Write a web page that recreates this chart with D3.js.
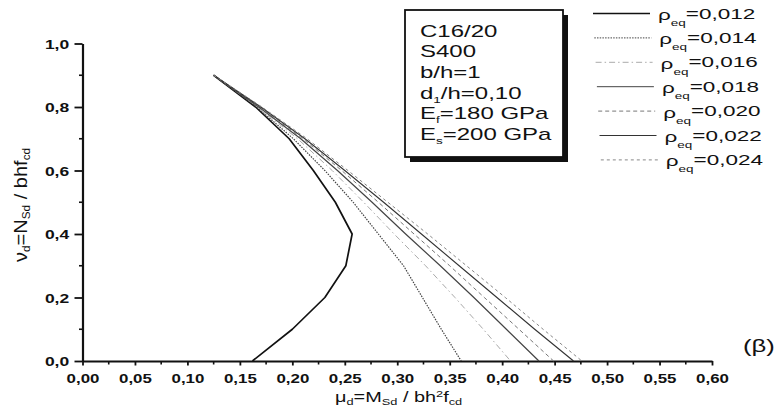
<!DOCTYPE html>
<html>
<head>
<meta charset="utf-8">
<script src="https://cdn.jsdelivr.net/npm/d3@7"></script>
<style>
  html, body { margin: 0; padding: 0; background: #fff; }
  svg { display: block; font-family: "Liberation Sans", Arial, sans-serif; }
</style>
</head>
<body>
<svg id="chart" width="782" height="412"></svg>
<script>
// ---- data ----
const nuLevels = [0.9, 0.8, 0.7, 0.6, 0.5, 0.4, 0.3, 0.2, 0.1, 0.0];
const rhoLabels = ["0,012", "0,014", "0,016", "0,018", "0,020", "0,022", "0,024"];
const mu012 = [0.125, 0.165, 0.197, 0.220, 0.241, 0.257, 0.251, 0.231, 0.200, 0.162];
const mu014 = [0.125, 0.166, 0.201, 0.231, 0.258, 0.282, 0.306, 0.324, 0.342, 0.361];
const mu016 = [0.125, 0.167, 0.205, 0.238, 0.268, 0.297, 0.327, 0.355, 0.382, 0.408];
const mu018 = [0.125, 0.168, 0.208, 0.243, 0.276, 0.308, 0.341, 0.373, 0.404, 0.435];
const mu020 = [0.125, 0.169, 0.210, 0.247, 0.282, 0.316, 0.350, 0.383, 0.416, 0.449];
const mu022 = [0.125, 0.170, 0.212, 0.250, 0.287, 0.323, 0.359, 0.395, 0.431, 0.468];
const mu024 = [0.125, 0.171, 0.214, 0.253, 0.291, 0.329, 0.366, 0.403, 0.439, 0.476];
const seriesMu = [mu012, mu014, mu016, mu018, mu020, mu022, mu024];
const xTickValues = [0, 0.05, 0.10, 0.15, 0.20, 0.25, 0.30, 0.35, 0.40, 0.45, 0.50, 0.55, 0.60];
const yTickValues = [0, 0.2, 0.4, 0.6, 0.8, 1.0];
const boxLines = [
  ["C16/20"], ["S400"], ["b/h=1"],
  ["d", "1", "/h=0,10"], ["E", "f", "=180 GPa"], ["E", "s", "=200 GPa"]
];

// ---- styles ----
const styles = [
  { stroke: "#111", width: 1.7, dash: null },
  { stroke: "#444", width: 1.2, dash: "1.5,1.2" },
  { stroke: "#aaa", width: 1.0, dash: "6,3,1.5,3" },
  { stroke: "#444", width: 1.2, dash: null },
  { stroke: "#777", width: 1.0, dash: "4,3" },
  { stroke: "#333", width: 1.1, dash: null },
  { stroke: "#888", width: 1.0, dash: "3,3" }
];
const SX = 1.5; // horizontal stretch of the scanned lettering

const svg = d3.select("#chart");
const x = d3.scaleLinear().domain([0, 0.6]).range([82.5, 712]);
const y = d3.scaleLinear().domain([0, 1.0]).range([361, 43.5]);
const fmt2 = d => d3.format(".2f")(d).replace(".", ",");
const fmt1 = d => d3.format(".1f")(d).replace(".", ",");

// minor ticks
const xMinor = d3.range(0.025, 0.6, 0.05);
const yMinor = d3.range(0.1, 1.0, 0.2);
svg.append("g").attr("transform", `translate(0,${y(0)})`)
  .selectAll("line").data(xMinor).join("line")
  .attr("x1", d => x(d)).attr("x2", d => x(d)).attr("y1", 0).attr("y2", 3.5)
  .attr("stroke", "#111").attr("stroke-width", 1.6);
svg.append("g").attr("transform", `translate(${x(0)},0)`)
  .selectAll("line").data(yMinor).join("line")
  .attr("y1", d => y(d)).attr("y2", d => y(d)).attr("x1", 0).attr("x2", -3.5)
  .attr("stroke", "#111").attr("stroke-width", 1.6);

// axes
const xAxis = svg.append("g").attr("transform", `translate(0,${y(0)})`)
  .call(d3.axisBottom(x).tickValues(xTickValues).tickFormat(fmt2).tickSize(4.5).tickSizeOuter(0).tickPadding(8));
const yAxis = svg.append("g").attr("transform", `translate(${x(0)},0)`)
  .call(d3.axisLeft(y).tickValues(yTickValues).tickFormat(fmt1).tickSize(8).tickSizeOuter(0).tickPadding(0));
[xAxis, yAxis].forEach(g => {
  g.select(".domain").attr("stroke", "#111").attr("stroke-width", 2.2);
  g.selectAll(".tick line").attr("stroke", "#111").attr("stroke-width", 1.8);
  g.selectAll(".tick text").attr("fill", "#111").style("font-weight", "bold")
    .style("font-family", "'Liberation Sans', Arial, sans-serif");
});
xAxis.selectAll(".tick text").style("font-size", "13px").attr("transform", "scale(1.3,1)");
yAxis.selectAll(".tick text").style("font-size", "12.5px").attr("x", -9.5).attr("dy", "0.36em")
  .attr("transform", "scale(1.4,1)");

// curves
const line = d3.line().x(d => x(d[0])).y(d => y(d[1]));
seriesMu.forEach((mu, i) => {
  const pts = mu.map((m, k) => [m, nuLevels[k]]);
  svg.append("path").datum(pts)
    .attr("d", line).attr("fill", "none")
    .attr("stroke", styles[i].stroke).attr("stroke-width", styles[i].width)
    .attr("stroke-dasharray", styles[i].dash)
    .attr("stroke-linejoin", "round");
});

// info box
const box = svg.append("g");
box.append("rect").attr("x", 410).attr("y", 15).attr("width", 158).attr("height", 147).attr("fill", "#111");
box.append("rect").attr("x", 405).attr("y", 10).attr("width", 158).attr("height", 147)
  .attr("fill", "#fff").attr("stroke", "#111").attr("stroke-width", 1.8);
boxLines.forEach((parts, i) => {
  const t = box.append("text")
    .attr("transform", `translate(420,${36.5 + i * 20.7}) scale(${SX},1)`)
    .attr("fill", "#111").style("font-size", "16px");
  if (parts.length === 1) {
    t.text(parts[0]);
  } else {
    t.append("tspan").text(parts[0]);
    t.append("tspan").attr("dy", 4).style("font-size", "9px").text(parts[1]);
    t.append("tspan").attr("dy", -4).text(parts[2]);
  }
});

// legend
const leg = svg.append("g");
rhoLabels.forEach((lab, i) => {
  const yy = 13.5 + i * 24.4;
  const dx = i * 1.3;
  leg.append("line").attr("x1", 593 + dx).attr("x2", 650 + dx).attr("y1", yy).attr("y2", yy)
    .attr("stroke", styles[i].stroke).attr("stroke-width", Math.max(1, styles[i].width - 0.2))
    .attr("stroke-dasharray", styles[i].dash);
  const t = leg.append("text")
    .attr("transform", `translate(${658 + dx},${yy + 5}) scale(${SX},1)`)
    .attr("fill", "#111").style("font-size", "15px");
  t.append("tspan").attr("dy", 1.5).text("ρ");
  t.append("tspan").attr("dy", 6).style("font-size", "9px").text("eq");
  t.append("tspan").attr("dy", -7.5).text("=" + lab);
});

// axis titles
const xt = svg.append("text").attr("transform", "translate(335,402) scale(1.42,1)")
  .attr("fill", "#111").style("font-size", "14px");
xt.append("tspan").text("μ");
xt.append("tspan").attr("dy", 3).style("font-size", "9px").text("d");
xt.append("tspan").attr("dy", -3).text("=M");
xt.append("tspan").attr("dy", 3).style("font-size", "9px").text("Sd");
xt.append("tspan").attr("dy", -3).text(" / bh");
xt.append("tspan").attr("dy", -5).style("font-size", "9px").text("2");
xt.append("tspan").attr("dy", 5).text("f");
xt.append("tspan").attr("dy", 3).style("font-size", "9px").text("cd");

const yt = svg.append("text").attr("transform", "translate(27,205) rotate(-90) scale(1.18,1.05)")
  .attr("text-anchor", "middle")
  .attr("fill", "#111").style("font-size", "17px");
yt.append("tspan").text("ν");
yt.append("tspan").attr("dy", 3).style("font-size", "10px").text("d");
yt.append("tspan").attr("dy", -3).text("=N");
yt.append("tspan").attr("dy", 3).style("font-size", "10px").text("Sd");
yt.append("tspan").attr("dy", -3).text(" / bhf");
yt.append("tspan").attr("dy", 3).style("font-size", "10px").text("cd");

// panel tag
svg.append("text").attr("transform", "translate(743,352) scale(1.35,1)")
  .attr("fill", "#111").style("font-size", "19px").text("(β)");
</script>
</body>
</html>
